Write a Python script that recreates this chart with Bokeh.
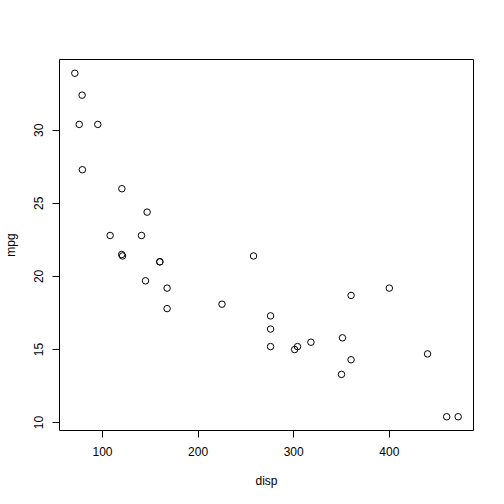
from bokeh.plotting import figure
from bokeh.models import FixedTicker, Range1d
from bokeh.embed import file_html
from bokeh.resources import INLINE

disp = [160, 160, 108, 258, 360, 225, 360, 146.7, 140.8, 167.6, 167.6, 275.8, 275.8, 275.8,
        472, 460, 440, 78.7, 75.7, 71.1, 120.1, 318, 304, 350, 400, 79, 120.3, 95.1, 351, 145, 301, 121]
mpg = [21.0, 21.0, 22.8, 21.4, 18.7, 18.1, 14.3, 24.4, 22.8, 19.2, 17.8, 16.4, 17.3, 15.2,
       10.4, 10.4, 14.7, 32.4, 30.4, 33.9, 21.5, 15.5, 15.2, 13.3, 19.2, 27.3, 26.0, 30.4, 15.8, 19.7, 15.0, 21.4]
x_ticks = [100, 200, 300, 400]
y_ticks = [10, 15, 20, 25, 30]

xmin, xmax = min(disp), max(disp)
ymin, ymax = min(mpg), max(mpg)
xpad = 0.04 * (xmax - xmin)
ypad = 0.04 * (ymax - ymin)

FONT = "Liberation Sans"

p = figure(width=480, height=480, frame_width=414, frame_height=371,
           output_backend="svg", toolbar_location=None,
           x_range=Range1d(xmin - xpad, xmax + xpad), y_range=Range1d(ymin - ypad, ymax + ypad),
           min_border_left=51, min_border_top=59, min_border_right=15, min_border_bottom=50)

p.scatter(disp, mpg, marker="circle", size=6.5, fill_color=None, line_color="black", line_width=1)

p.grid.visible = False
p.outline_line_color = "black"
p.outline_line_width = 1
p.background_fill_color = "white"
p.border_fill_color = "white"

p.xaxis.ticker = FixedTicker(ticks=x_ticks)
p.yaxis.ticker = FixedTicker(ticks=y_ticks)
p.xaxis.axis_label = "disp"
p.yaxis.axis_label = "mpg"
for ax in (p.xaxis, p.yaxis):
    ax.axis_line_color = None
    ax.major_tick_out = 7
    ax.major_tick_in = 0
    ax.minor_tick_out = 0
    ax.minor_tick_in = 0
    ax.major_tick_line_color = "black"
    ax.major_label_text_font = FONT
    ax.major_label_text_font_size = "12px"
    ax.major_label_text_color = "black"
    ax.axis_label_text_font = FONT
    ax.axis_label_text_font_size = "12px"
    ax.axis_label_text_font_style = "normal"
    ax.axis_label_text_color = "black"
    ax.major_label_standoff = 9
p.yaxis.major_label_orientation = "vertical"
p.xaxis.axis_label_standoff = 15
p.yaxis.axis_label_standoff = 14

open("out.html", "w").write(file_html(p, INLINE))
